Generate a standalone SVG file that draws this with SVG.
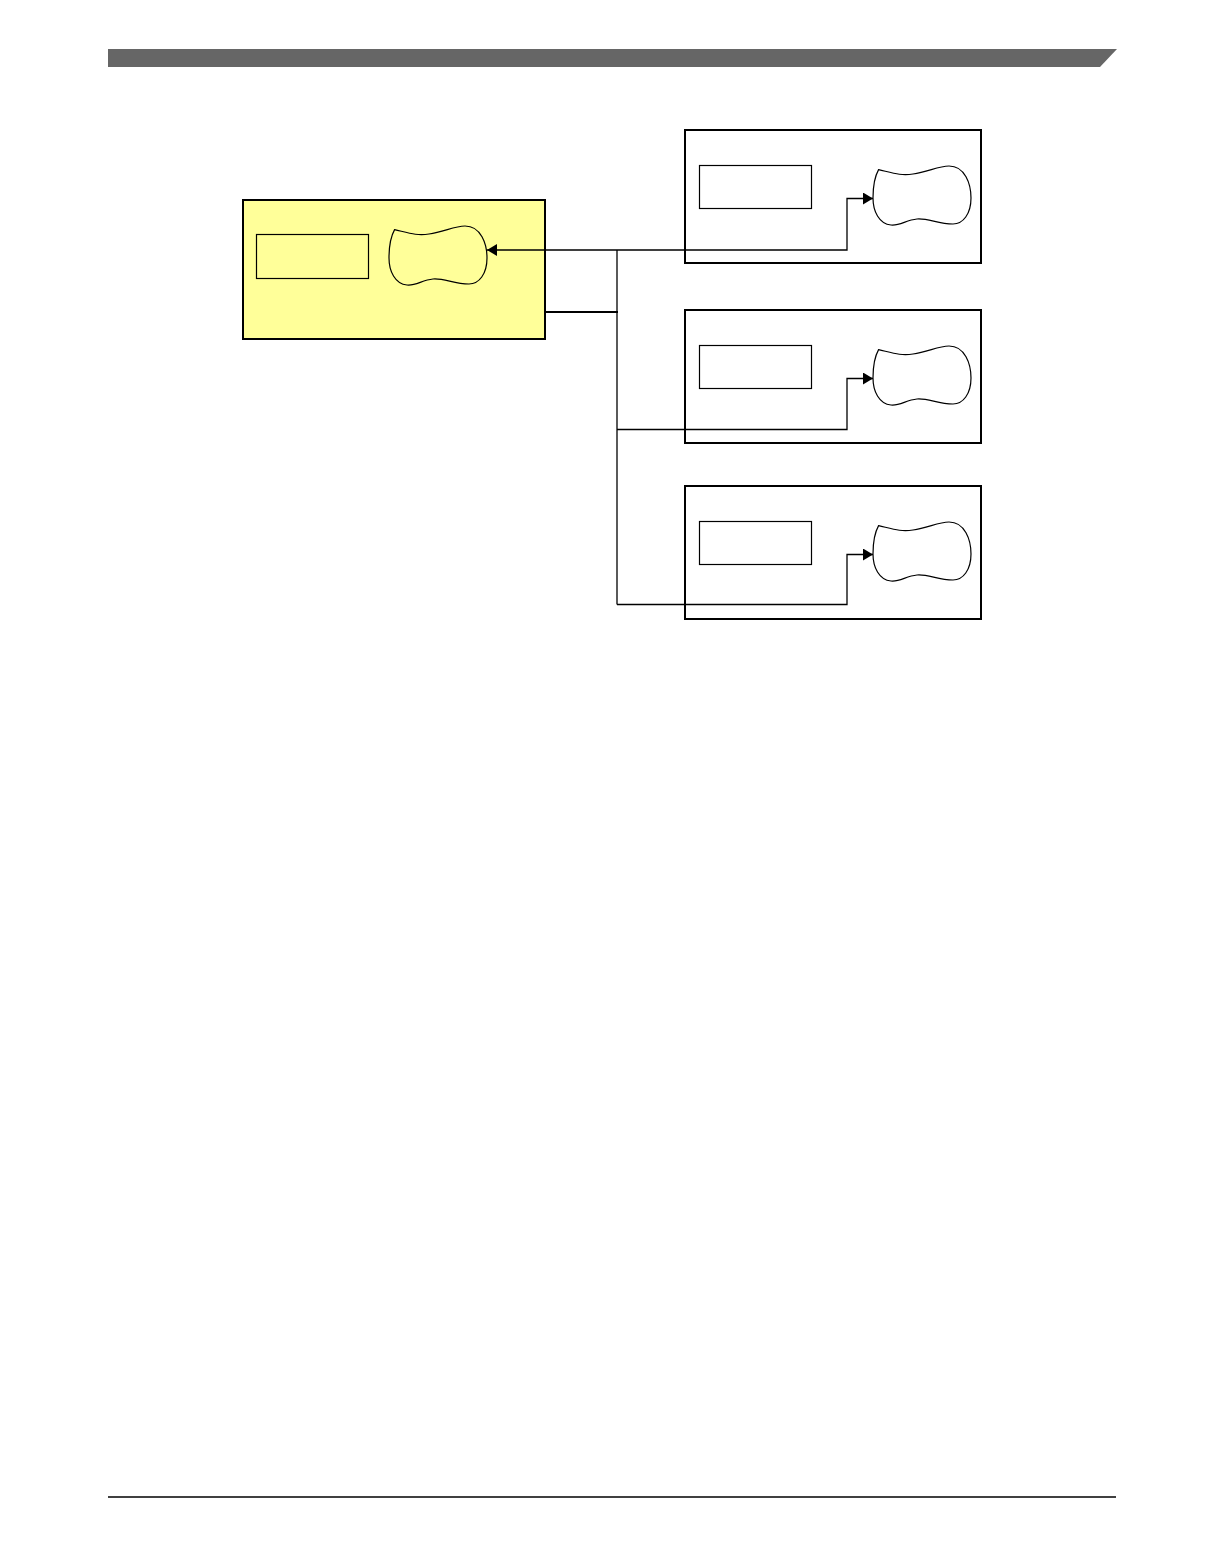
<svg xmlns="http://www.w3.org/2000/svg" xmlns:xlink="http://www.w3.org/1999/xlink" width="1224" height="1555" viewBox="0 0 1224 1555">
<style>
.box{fill:#fff;stroke:#000;stroke-width:2}
.ybox{fill:#FFFF99;stroke:#000;stroke-width:2}
.inner{fill:none;stroke:#000;stroke-width:1.2}
.blob{fill:none;stroke:#000;stroke-width:1.2}
.conn{fill:none;stroke:#000;stroke-width:1.3}
.thick{fill:none;stroke:#000;stroke-width:2}
</style>
<defs>
<marker id="arr" viewBox="0 0 10 12" refX="10" refY="6" markerWidth="10" markerHeight="12" markerUnits="userSpaceOnUse" orient="auto-start-reverse">
<path d="M0,0 L10,6 L0,12 Z" fill="#000"/>
</marker>
<path id="blobshape" d="M5.6,3.6 C20,7 28,10 40,8 C55,6 65,0 76,0 C92,0 98,18 98,32 C98,48 90,58 80,58 C65,58 55,52 44,53 C33,54 27,60 18,59 C6,58 0,45 0,32 C0,20 2,10 5.6,3.6 Z"/>
</defs>
<rect x="0" y="0" width="1224" height="1555" fill="#fff"/>
<polygon points="108,49 1117,49 1100,67 108,67" fill="#666666"/>
<line x1="108" y1="1497" x2="1116" y2="1497" stroke="#000" stroke-width="1.3"/>
<g id="master">
<rect class="ybox" x="243" y="200" width="302" height="139"/>
<rect class="inner" x="256.5" y="234.5" width="112" height="44"/>
<use xlink:href="#blobshape" class="blob" transform="translate(389,226)"/>
</g>
<g id="slave1">
<rect class="box" x="685" y="130" width="296" height="133"/>
<rect class="inner" x="699.5" y="165.5" width="112" height="43"/>
<use xlink:href="#blobshape" class="blob" transform="translate(873,166)"/>
</g>
<g id="slave2">
<rect class="box" x="685" y="310" width="296" height="133"/>
<rect class="inner" x="699.5" y="345.5" width="112" height="43"/>
<use xlink:href="#blobshape" class="blob" transform="translate(873,346)"/>
</g>
<g id="slave3">
<rect class="box" x="685" y="486" width="296" height="133"/>
<rect class="inner" x="699.5" y="521.5" width="112" height="43"/>
<use xlink:href="#blobshape" class="blob" transform="translate(873,522)"/>
</g>
<g id="connectors">
<path class="conn" d="M487,250 L847,250 L847,198.5 L873,198.5" marker-start="url(#arr)" marker-end="url(#arr)"/>
<path class="conn" d="M617,250 L617,604.5"/>
<path class="thick" d="M545,312 L618,312"/>
<path class="conn" d="M617,429.5 L847,429.5 L847,378.5 L873,378.5" marker-end="url(#arr)"/>
<path class="conn" d="M617,604.5 L847,604.5 L847,554.5 L873,554.5" marker-end="url(#arr)"/>
</g>
</svg>
